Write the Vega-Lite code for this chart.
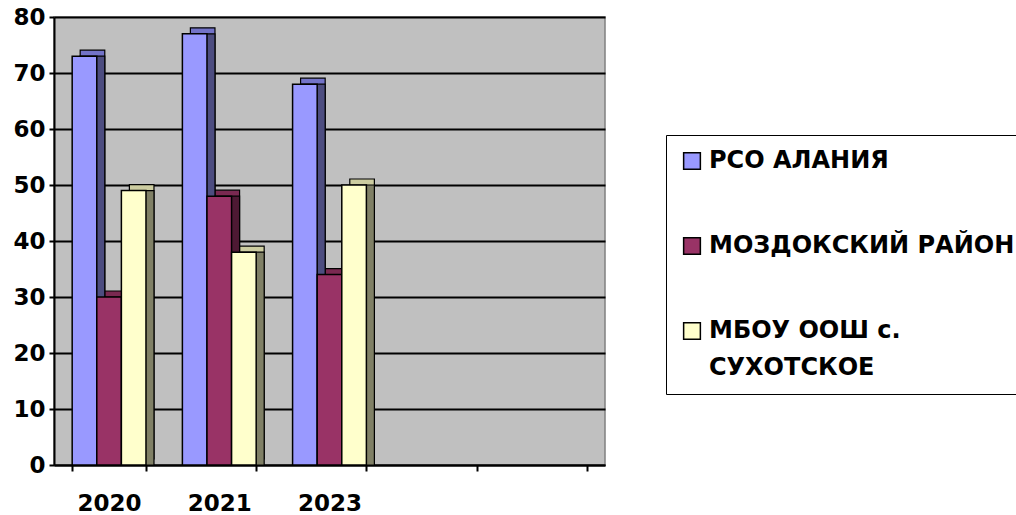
{
  "$schema": "https://vega.github.io/schema/vega-lite/v6.json",
  "width": 551,
  "height": 448,
  "autosize": {"type": "none"},
  "padding": {"left": 54, "top": 17, "right": 411, "bottom": 50},
  "background": "white",
  "config": {
    "view": {"fill": "#C0C0C0", "stroke": "#808080", "strokeWidth": 1.5},
    "font": "DejaVu Sans",
    "axis": {
      "labelFont": "DejaVu Sans",
      "labelFontWeight": "bold",
      "labelFontSize": 23,
      "labelColor": "black",
      "domainColor": "black",
      "domainWidth": 2,
      "tickColor": "black",
      "tickWidth": 2,
      "title": null
    }
  },
  "data": {
    "values": [
      {"year": "2020", "series": "РСО АЛАНИЯ", "value": 73},
      {"year": "2020", "series": "МОЗДОКСКИЙ РАЙОН", "value": 30},
      {"year": "2020", "series": "МБОУ ООШ с. СУХОТСКОЕ", "value": 49},
      {"year": "2021", "series": "РСО АЛАНИЯ", "value": 77},
      {"year": "2021", "series": "МОЗДОКСКИЙ РАЙОН", "value": 48},
      {"year": "2021", "series": "МБОУ ООШ с. СУХОТСКОЕ", "value": 38},
      {"year": "2023", "series": "РСО АЛАНИЯ", "value": 68},
      {"year": "2023", "series": "МОЗДОКСКИЙ РАЙОН", "value": 34},
      {"year": "2023", "series": "МБОУ ООШ с. СУХОТСКОЕ", "value": 50}
    ]
  },
  "encoding": {
    "x": {
      "field": "year",
      "type": "nominal",
      "scale": {"domain": ["2020", "2021", "2023", "e1", "e2"], "paddingInner": 0.33, "paddingOuter": 0.165},
      "axis": {
        "labelAngle": 0,
        "labelExpr": "indexof(['e1','e2'], datum.value) >= 0 ? '' : datum.value",
        "tickBand": "extent",
        "tickSize": 6,
        "labelPadding": 21,
        "grid": false
      }
    },
    "y": {
      "field": "value",
      "type": "quantitative",
      "scale": {"domain": [0, 80], "nice": false},
      "axis": {
        "values": [0, 10, 20, 30, 40, 50, 60, 70, 80],
        "grid": true,
        "gridColor": "black",
        "gridWidth": 2,
        "gridOpacity": 1,
        "tickSize": 5,
        "labelPadding": 4
      }
    }
  },
  "layer": [
    {
      "mark": {"type": "bar", "yOffset": -6, "stroke": "black", "strokeWidth": 1.2},
      "encoding": {
        "xOffset": {
          "field": "series",
          "type": "nominal",
          "scale": {"domain": ["РСО АЛАНИЯ", "МОЗДОКСКИЙ РАЙОН", "МБОУ ООШ с. СУХОТСКОЕ"], "range": [8, 81.8], "paddingInner": 0, "paddingOuter": 0}
        },
        "color": {
          "field": "series",
          "type": "nominal",
          "scale": {"domain": ["РСО АЛАНИЯ", "МОЗДОКСКИЙ РАЙОН", "МБОУ ООШ с. СУХОТСКОЕ"], "range": ["#7373C8", "#7A2951", "#CCCCA0"]},
          "legend": null
        }
      }
    },
    {
      "mark": {"type": "bar", "stroke": "black", "strokeWidth": 1.2},
      "encoding": {
        "xOffset": {
          "field": "series",
          "type": "nominal",
          "scale": {"domain": ["РСО АЛАНИЯ", "МОЗДОКСКИЙ РАЙОН", "МБОУ ООШ с. СУХОТСКОЕ"], "range": [8, 81.8], "paddingInner": 0, "paddingOuter": 0}
        },
        "color": {
          "field": "series",
          "type": "nominal",
          "scale": {"domain": ["РСО АЛАНИЯ", "МОЗДОКСКИЙ РАЙОН", "МБОУ ООШ с. СУХОТСКОЕ"], "range": ["#4D4D80", "#4D1933", "#808066"]},
          "legend": null
        }
      }
    },
    {
      "mark": {"type": "bar", "stroke": "black", "strokeWidth": 1.5},
      "encoding": {
        "xOffset": {
          "field": "series",
          "type": "nominal",
          "scale": {"domain": ["РСО АЛАНИЯ", "МОЗДОКСКИЙ РАЙОН", "МБОУ ООШ с. СУХОТСКОЕ"], "range": [0, 73.8], "paddingInner": 0, "paddingOuter": 0}
        },
        "color": {
          "field": "series",
          "type": "nominal",
          "scale": {"domain": ["РСО АЛАНИЯ", "МОЗДОКСКИЙ РАЙОН", "МБОУ ООШ с. СУХОТСКОЕ"], "range": ["#9999FF", "#993366", "#FFFFCC"]},
          "legend": {
            "title": null,
            "orient": "none",
            "legendX": 612,
            "legendY": 118,
            "strokeColor": "black",
            "fillColor": "white",
            "padding": 14,
            "symbolType": "square",
            "symbolSize": 280,
            "symbolStrokeColor": "black",
            "symbolStrokeWidth": 1.5,
            "labelFont": "DejaVu Sans",
            "labelFontWeight": "bold",
            "labelFontSize": 24,
            "labelColor": "black",
            "labelLimit": 500,
            "labelOffset": 5,
            "rowPadding": 61,
            "labelExpr": "datum.label == 'МБОУ ООШ с. СУХОТСКОЕ' ? ['МБОУ ООШ с.', 'СУХОТСКОЕ'] : datum.label",
            "encode": {"labels": {"update": {"lineHeight": {"value": 37}}}}
          }
        }
      }
    }
  ],
  "resolve": {"scale": {"color": "independent", "xOffset": "independent"}}
}
